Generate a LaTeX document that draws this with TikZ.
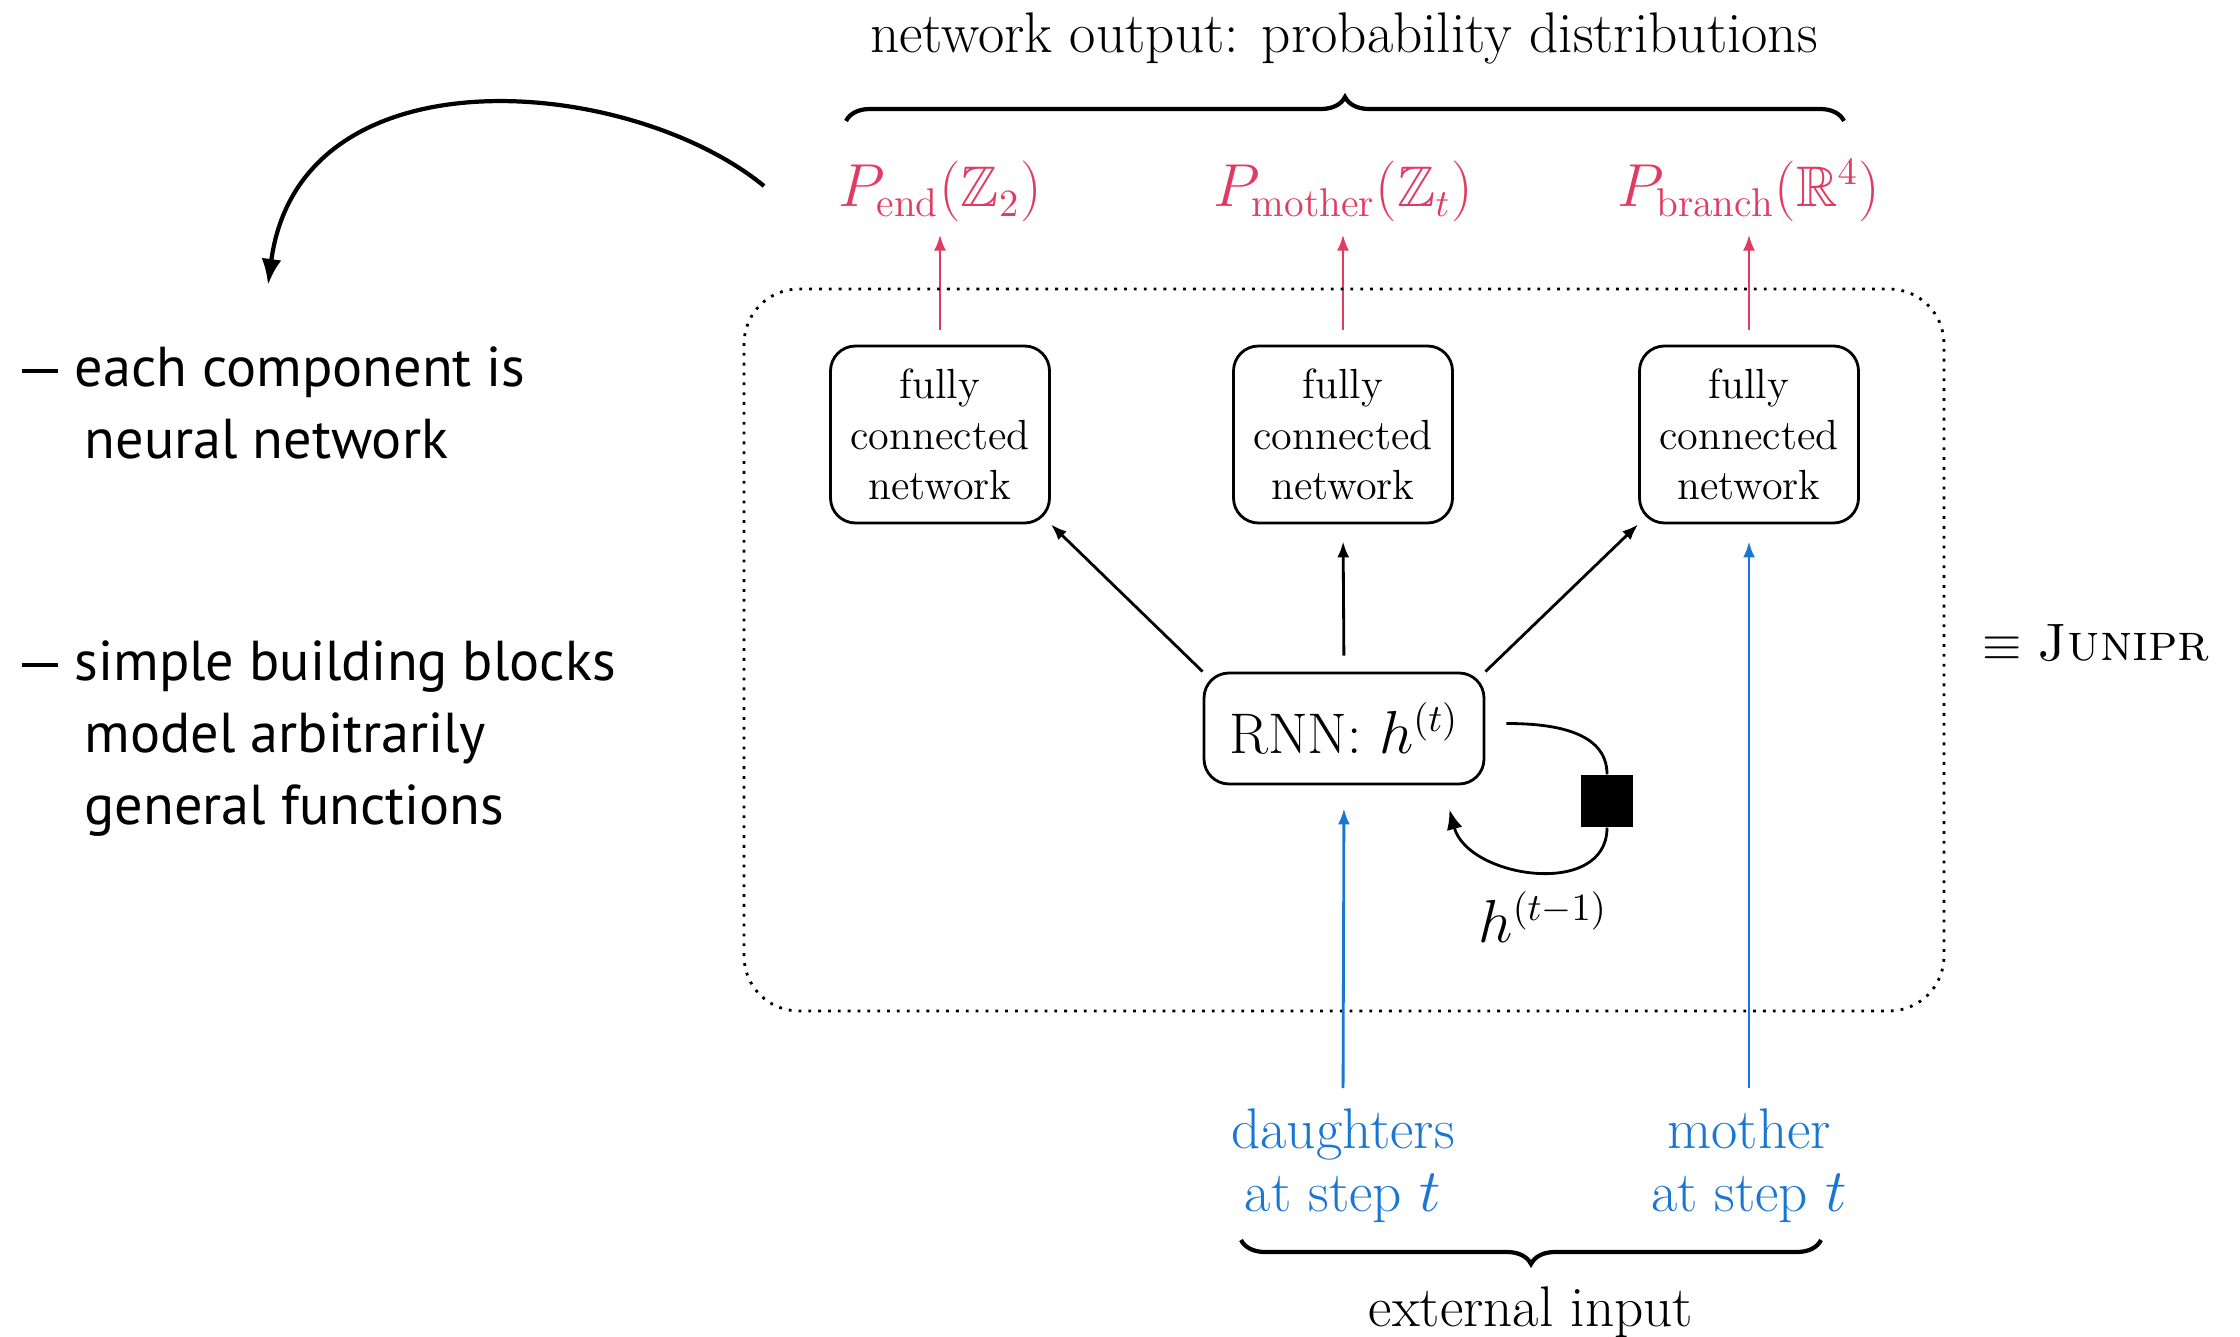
\documentclass[tikz,border=0pt]{standalone}
\usepackage{amsmath,amssymb}
\usepackage{fontspec}
\newfontfamily\notefont{PT Sans}
\usetikzlibrary{arrows.meta,decorations.pathreplacing,calc}
\definecolor{outred}{RGB}{224,59,96}
\definecolor{inblue}{RGB}{25,118,210}
\newcommand{\notedash}{\llap{\rule[0.24em]{0.36cm}{0.07em}\hspace{0.17cm}}}
\tikzset{
  netbox/.style={draw,thick,rounded corners=0.25cm,minimum width=2.19cm,minimum height=1.77cm,
    align=center,inner sep=0pt,font=\fontsize{12}{14.4}\selectfont},
  rnnbox/.style={draw,thick,rounded corners=0.25cm,minimum width=2.80cm,minimum height=1.11cm},
  feed/.style={line width=0.8pt,-{Latex[length=0.16cm,width=0.12cm]}},
  outarrow/.style={feed,outred},
  inarrow/.style={feed,inblue},
  bigbrace/.style={decorate,decoration={brace,amplitude=0.24cm},line width=1.2pt},
  note/.style={font=\notefont\fontsize{16}{20.5}\selectfont,inner sep=0pt,align=left}
}
\begin{document}
\begin{tikzpicture}[font=\fontsize{16.3}{18}\selectfont]
\useasboundingbox (0,0) rectangle (22.4,13.36);
% output side
\node[anchor=base] (title) at (13.44,12.83) {network output: probability distributions};
\draw[bigbrace] (8.46,12.15) -- (18.44,12.15);
\node[anchor=base,outred] (pend) at (9.40,11.29) {$P_{\text{end}}(\mathbb{Z}_2)$};
\node[anchor=base,outred] (pmother) at (13.43,11.29) {$P_{\text{mother}}(\mathbb{Z}_t)$};
\node[anchor=base,outred] (pbranch) at (17.49,11.29) {$P_{\text{branch}}(\mathbb{R}^4)$};
\node[netbox] (fcl) at (9.40,9.015) {fully\\connected\\network};
\node[netbox] (fcm) at (13.43,9.015) {fully\\connected\\network};
\node[netbox] (fcr) at (17.49,9.015) {fully\\connected\\network};
\draw[outarrow,shorten <=0.15cm] (fcl.north) -- (pend.south);
\draw[outarrow,shorten <=0.15cm] (fcm.north) -- (pmother.south);
\draw[outarrow,shorten <=0.15cm] (fcr.north) -- (pbranch.south);
\draw[dotted,thick,rounded corners=0.55cm] (7.44,3.25) rectangle (19.44,10.47);
% recurrent core
\node[rnnbox] (rnn) at (13.44,6.075) {RNN: $h^{(t)}$};
\draw[feed] (rnn.north west) -- (fcl.south east);
\draw[feed,shorten <=0.16cm,shorten >=0.17cm] (rnn.north) -- (fcm.south);
\draw[feed] (rnn.north east) -- (fcr.south west);
\node[fill,minimum size=0.52cm,inner sep=0pt] (delay) at (16.07,5.35) {};
\coordinate (selfout) at ($(rnn.east)+(0.21,0.05)$);
\coordinate (selfin) at ($(rnn.south east)+(-0.36,-0.24)$);
\draw[thick] (selfout) to[out=0,in=90] (delay.north);
\draw[thick,-{Latex[length=0.2cm,width=0.16cm]}] (delay.south) to[out=-90,in=-75,looseness=1.15] (selfin);
\node (hprev) at (15.43,4.19) {$h^{(t-1)}$};
% input side
\node[anchor=north,align=center,inner sep=0pt,inblue] (dau) at (13.43,2.28) {daughters\\at step $t$};
\node[anchor=north,align=center,inner sep=0pt,inblue] (mot) at (17.49,2.28) {mother\\at step $t$};
\draw[inarrow,shorten <=0.2cm,shorten >=0.23cm] (dau.north) -- (rnn.south);
\draw[inarrow,shorten <=0.2cm,shorten >=0.17cm] (mot.north) -- (fcr.south);
\draw[bigbrace] (18.21,0.96) -- (12.41,0.96);
\node[anchor=base] (extin) at (15.31,0.10) {external input};
\node[anchor=base,font=\fontsize{15}{18}\selectfont] (junipr) at (20.96,6.75) {$\equiv$ \textsc{Junipr}};
% notes on the left
\node[note,anchor=north west] (note1) at (0.74,9.90) {\notedash each component is\\\hspace*{0.1cm}neural network};
\node[note,anchor=north west] (note2) at (0.74,6.96) {\notedash simple building blocks\\\hspace*{0.1cm}model arbitrarily\\\hspace*{0.1cm}general functions};
\coordinate (tailstart) at (7.64,11.50);
\coordinate (tailend) at (2.68,10.51);
\draw[line width=1.2pt,-{Latex[length=0.26cm,width=0.2cm]}] (tailstart) .. controls (6.3,12.6) and (3.0,12.9) .. (tailend);
\end{tikzpicture}
\end{document}
